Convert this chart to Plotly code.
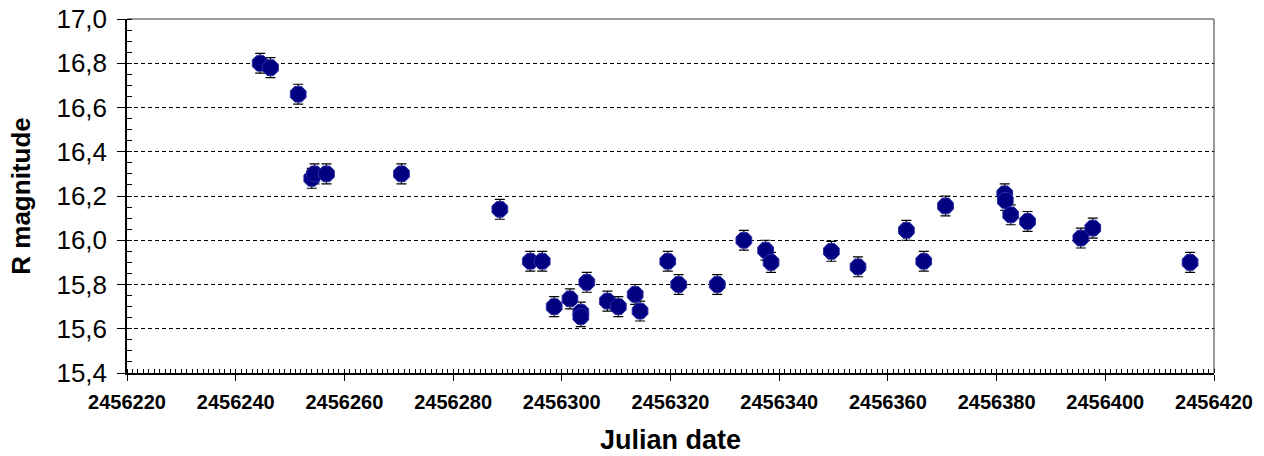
import plotly.graph_objects as go

# Julian dates and R magnitudes
jd = [2456244.5, 2456246.4, 2456251.5, 2456254.0, 2456254.5, 2456256.7, 2456270.5,
      2456288.6, 2456294.2, 2456296.4, 2456298.6, 2456301.5, 2456303.5, 2456303.5,
      2456304.6, 2456308.4, 2456310.4, 2456313.5, 2456314.4, 2456319.5, 2456321.5,
      2456328.6, 2456333.5, 2456337.5, 2456338.5, 2456349.6, 2456354.5, 2456363.4,
      2456366.6, 2456370.6, 2456381.5, 2456381.6, 2456382.6, 2456385.7, 2456395.5,
      2456397.7, 2456415.6]
r_mag = [16.80, 16.78, 16.66, 16.28, 16.30, 16.30, 16.30,
         16.14, 15.905, 15.905, 15.70, 15.735, 15.675, 15.655,
         15.81, 15.725, 15.70, 15.755, 15.68, 15.905, 15.80,
         15.80, 16.00, 15.955, 15.90, 15.95, 15.88, 16.045,
         15.905, 16.155, 16.21, 16.18, 16.115, 16.085, 16.01,
         16.055, 15.90]
r_err = [0.045] * len(jd)

x_ticks = [2456220, 2456240, 2456260, 2456280, 2456300, 2456320, 2456340,
           2456360, 2456380, 2456400, 2456420]
y_ticks = [15.4, 15.6, 15.8, 16.0, 16.2, 16.4, 16.6, 16.8, 17.0]

fig = go.Figure()
fig.add_trace(go.Scatter(
    x=jd, y=r_mag, mode="markers",
    marker=dict(symbol="octagon", size=17, color="#000080",
                line=dict(color="#2b2ba6", width=1)),
    error_y=dict(type="data", array=r_err, visible=True,
                 color="black", thickness=1.2, width=5),
    showlegend=False,
))

font_family = "Liberation Sans, Arial, sans-serif"

fig.update_layout(
    width=1264, height=456,
    margin=dict(l=127, r=50, t=19, b=83),
    paper_bgcolor="white", plot_bgcolor="white",
    separators=",.",
    font=dict(family=font_family, color="black"),
    xaxis=dict(
        range=[2456220, 2456420], tickvals=x_ticks, tickformat="d",
        automargin=False, ticklabeloverflow="allow",
        showgrid=False, zeroline=False,
        showline=True, linecolor="black", linewidth=1.5,
        ticks="outside", ticklen=6, tickwidth=1, tickcolor="black",
        ticklabelstandoff=4,
        minor=dict(dtick=1, ticks="inside", ticklen=4, tickwidth=1,
                   tickcolor="black", showgrid=False),
        tickfont=dict(size=20, family="Liberation Sans, Arial", weight="bold"),
        title=dict(text="<b>Julian date</b>", font=dict(size=27), standoff=18),
    ),
    yaxis=dict(
        range=[15.4, 17.0], tickvals=y_ticks, tickformat=".1f",
        automargin=False, ticklabeloverflow="allow",
        showgrid=True, gridcolor="black", gridwidth=1, griddash="4px,3px",
        zeroline=False,
        showline=True, linecolor="black", linewidth=1.5,
        ticks="outside", ticklen=8, tickwidth=1, tickcolor="black",
        ticklabelstandoff=5,
        minor=dict(dtick=0.05, ticks="inside", ticklen=5, tickwidth=1,
                   tickcolor="black", showgrid=False),
        tickfont=dict(size=26),
        title=dict(text="<b>R magnitude</b>", font=dict(size=26), standoff=18),
    ),
    shapes=[
        dict(type="line", xref="paper", yref="paper", x0=0, x1=1, y0=1, y1=1,
             line=dict(color="#999999", width=2), layer="below"),
        dict(type="line", xref="paper", yref="paper", x0=1, x1=1, y0=0, y1=1,
             line=dict(color="#999999", width=2), layer="below"),
    ],
)

fig.write_html("out.html",
               config={"displayModeBar": False},
               post_script="document.body.style.margin='0';")
